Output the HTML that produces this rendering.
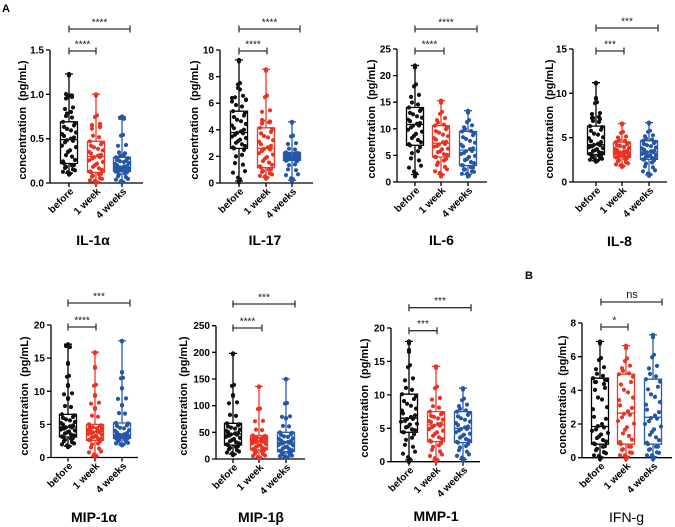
<!DOCTYPE html>
<html><head><meta charset="utf-8">
<style>
html,body{margin:0;padding:0;background:#fff;}
svg{display:block;}
text{font-family:"Liberation Sans",Arial,sans-serif;}
.ax{stroke:#000;stroke-width:1.3;fill:none;}
.tl{font-size:10px;font-weight:bold;text-anchor:end;fill:#000;}
.yl{font-size:11px;font-weight:bold;text-anchor:middle;fill:#000;}
.xl{font-size:10px;font-weight:bold;text-anchor:end;fill:#000;}
.ti{font-size:14px;font-weight:bold;text-anchor:middle;fill:#000;}
.sig{stroke:#333;stroke-width:1.3;fill:none;}
.st{font-size:10px;text-anchor:middle;fill:#111;}
.bk{stroke:#000;stroke-width:1.3;fill:none;}
.rd{stroke:#ec3b2c;stroke-width:1.3;fill:none;}
.bl{stroke:#2b5caa;stroke-width:1.3;fill:none;}
.dk{stroke:#111;stroke-width:4.2;stroke-linecap:round;fill:none;}
.dr{stroke:#ea3323;stroke-width:4.2;stroke-linecap:round;fill:none;}
.db{stroke:#2656a6;stroke-width:4.2;stroke-linecap:round;fill:none;}
</style></head>
<body>
<svg width="675" height="527" viewBox="0 0 675 527" xmlns="http://www.w3.org/2000/svg" xmlns:xlink="http://www.w3.org/1999/xlink">
<rect width="675" height="527" fill="#fff"/>
<text x="2" y="12" style="font-size:11px;font-weight:bold">A</text>
<text x="525" y="279" style="font-size:11px;font-weight:bold">B</text>

<!-- P1 IL-1a -->
<g>
<path class="ax" d="M50 50V183H143M46 50h4M46 94.3h4M46 138.7h4M46 183h4M69 183v4M96 183v4M122 183v4"/>
<text class="tl" x="44" y="53.5">1.5</text><text class="tl" x="44" y="97.8">1.0</text><text class="tl" x="44" y="142.2">0.5</text><text class="tl" x="44" y="186.5">0.0</text>
<text class="yl" transform="translate(26,120) rotate(-90)">concentration&#160;&#160;(pg/mL)</text>
<path class="bk" d="M60.5 121.8h17v41.7h-17zM60.5 139.6h17M69 74V121.8M69 163.5V173.2M65 74h8M65 173.2h8"/>
<path class="rd" d="M87.5 141.3h17v31.1h-17zM87.5 156.4h17M96 94.3V141.3M96 172.4V181.7M92 94.3h8M92 181.7h8"/>
<path class="bl" d="M113.5 157.3h17v14.2h-17zM113.5 167h17M122 116.5V157.3M122 171.5V182.1M118 116.5h8M118 182.1h8"/>
<path id="d1a" class="dk" d="M69 74h.01M66 116h.01M73 107.5h.01M70 95.5h.01M66 94h.01M72 97h.01M71 112h.01M63 121.8h.01M74 125.4h.01M67 128.9h.01M76 132.5h.01M64 136h.01M71 138.7h.01M73 140.8h.01M62 145.6h.01M70 150.4h.01M66 155.1h.01M75 159.9h.01M64 163.5h.01M72 165.4h.01M65 167.9h.01M75 170.3h.01M68 172.2h.01M69 173.2h.01"/>
<path id="d1b" class="dr" d="M96 94.3h.01M93 135.7h.01M100 127.2h.01M97 115.5h.01M92 125h.01M100 124h.01M90 141.3h.01M101 144.3h.01M94 147.3h.01M103 150.4h.01M91 153.4h.01M98 155.6h.01M100 157.2h.01M89 160.4h.01M97 163.6h.01M93 166.8h.01M102 170h.01M91 172.4h.01M99 174.3h.01M92 176.6h.01M102 178.9h.01M95 180.8h.01M96 181.7h.01"/>
<path id="d1c" class="db" d="M122 116.5h.01M120 118h.01M119 152.4h.01M126 145h.01M123 134.9h.01M124 155h.01M118 160h.01M116 157.3h.01M127 159.2h.01M120 161.2h.01M129 163.1h.01M117 165.1h.01M124 166.5h.01M126 167.2h.01M115 168.1h.01M123 169h.01M119 169.9h.01M128 170.8h.01M117 171.5h.01M125 173.6h.01M118 176.3h.01M128 178.9h.01M121 181h.01M122 182.1h.01"/>
<use href="#d1a" xlink:href="#d1a" transform="matrix(-1 0 0 1 138 1.5)"/>
<use href="#d1b" xlink:href="#d1b" transform="matrix(-1 0 0 1 192 1.5)"/>
<use href="#d1c" xlink:href="#d1c" transform="matrix(-1 0 0 1 244 0.8)"/>
<path class="sig" d="M69 29H130M69 25.5v7M130 25.5v7M69 51H96M69 47.5v7M96 47.5v7"/>
<text class="st" x="99.5" y="25.5">****</text><text class="st" x="82.5" y="47.5">****</text>
<text class="xl" transform="translate(74,192) rotate(-45)">before</text>
<text class="xl" transform="translate(101,192) rotate(-45)">1 week</text>
<text class="xl" transform="translate(127,192) rotate(-45)">4 weeks</text>
<text class="ti" x="93" y="245">IL-1α</text>
</g>

<!-- P2 IL-17 -->
<g>
<path class="ax" d="M220 50V183H313M216 50h4M216 76.6h4M216 103.2h4M216 129.8h4M216 156.4h4M216 183h4M239 183v4M266 183v4M292 183v4"/>
<text class="tl" x="214" y="53.5">10</text><text class="tl" x="214" y="80.1">8</text><text class="tl" x="214" y="106.7">6</text><text class="tl" x="214" y="133.3">4</text><text class="tl" x="214" y="159.9">2</text><text class="tl" x="214" y="186.5">0</text>
<text class="yl" transform="translate(198,120) rotate(-90)">concentration&#160;&#160;(pg/mL)</text>
<path class="bk" d="M230.5 111.2h17v37.2h-17zM230.5 132.5h17M239 60V111.2M239 148.4V181M235 60h8M235 181h8"/>
<path class="rd" d="M257.5 127.8h17v39.9h-17zM257.5 148.4h17M266 69.3V127.8M266 167.7V177.3M262 69.3h8M262 177.3h8"/>
<path class="bl" d="M283.5 152.4h17v8h-17zM283.5 156.4h17M292 121.8V152.4M292 160.4V180.3M288 121.8h8M288 180.3h8"/>
<path id="d2a" class="dk" d="M239 60h.01M236 105h.01M243 95.8h.01M240 83h.01M232 98h.01M246 100h.01M238 88h.01M233 111.2h.01M244 115.5h.01M237 119.7h.01M246 124h.01M234 128.2h.01M241 131.4h.01M243 133.3h.01M232 136.5h.01M240 139.7h.01M236 142.8h.01M245 146h.01M234 148.4h.01M242 154.9h.01M235 163.1h.01M245 171.2h.01M238 177.7h.01M239 181h.01"/>
<path id="d2b" class="dr" d="M266 69.3h.01M263 120.8h.01M270 110.3h.01M267 95.6h.01M262 120h.01M270 122h.01M260 127.8h.01M271 131.9h.01M264 136h.01M273 140.2h.01M261 144.3h.01M268 147.4h.01M270 149.4h.01M259 153.2h.01M267 157.1h.01M263 161h.01M272 164.8h.01M261 167.7h.01M269 169.6h.01M262 172h.01M272 174.4h.01M265 176.3h.01M266 177.3h.01"/>
<path id="d2c" class="db" d="M292 121.8h.01M289 148.7h.01M296 143.2h.01M293 135.6h.01M286 152.4h.01M297 153.2h.01M290 154h.01M299 154.8h.01M287 155.6h.01M294 156.2h.01M296 156.6h.01M285 157.4h.01M293 158.2h.01M289 159h.01M298 159.8h.01M287 160.4h.01M295 164.4h.01M288 169.4h.01M298 174.3h.01M291 178.3h.01M292 180.3h.01"/>
<use href="#d2a" xlink:href="#d2a" transform="matrix(-1 0 0 1 478 1.5)"/>
<use href="#d2b" xlink:href="#d2b" transform="matrix(-1 0 0 1 532 1.5)"/>
<use href="#d2c" xlink:href="#d2c" transform="matrix(-1 0 0 1 584 0.8)"/>
<path class="sig" d="M239 29H300M239 25.5v7M300 25.5v7M239 51H267M239 47.5v7M267 47.5v7"/>
<text class="st" x="269.5" y="25.5">****</text><text class="st" x="253" y="47.5">****</text>
<text class="xl" transform="translate(244,192) rotate(-45)">before</text>
<text class="xl" transform="translate(271,192) rotate(-45)">1 week</text>
<text class="xl" transform="translate(297,192) rotate(-45)">4 weeks</text>
<text class="ti" x="265" y="245">IL-17</text>
</g>

<!-- P3 IL-6 -->
<g>
<path class="ax" d="M397 49V182H487M393 49h4M393 75.6h4M393 102.2h4M393 128.8h4M393 155.4h4M393 182h4M415 182v4M441 182v4M468 182v4"/>
<text class="tl" x="391" y="52.5">25</text><text class="tl" x="391" y="79.1">20</text><text class="tl" x="391" y="105.7">15</text><text class="tl" x="391" y="132.3">10</text><text class="tl" x="391" y="158.9">5</text><text class="tl" x="391" y="185.5">0</text>
<text class="yl" transform="translate(375,119) rotate(-90)">concentration&#160;&#160;(pg/mL)</text>
<path class="bk" d="M406.5 107.5h17v37.8h-17zM406.5 124.5h17M415 65.5V107.5M415 145.3V174.5M411 65.5h8M411 174.5h8"/>
<path class="rd" d="M432.5 125.6h17v31.4h-17zM432.5 143.2h17M441 100.6V125.6M441 157V174.5M437 100.6h8M437 174.5h8"/>
<path class="bl" d="M459.5 131.5h17v34h-17zM459.5 150.1h17M468 110.7V131.5M468 165.5V174.5M464 110.7h8M464 174.5h8"/>
<path id="d3a" class="dk" d="M415 65.5h.01M412 102.5h.01M419 94.9h.01M416 84.4h.01M409 107.5h.01M420 110.9h.01M413 114.3h.01M422 117.7h.01M410 121.1h.01M417 123.7h.01M419 125.5h.01M408 129.7h.01M416 133.9h.01M412 138h.01M421 142.2h.01M410 145.3h.01M418 151.1h.01M411 158.4h.01M421 165.7h.01M414 171.6h.01M415 174.5h.01"/>
<path id="d3b" class="dr" d="M441 100.6h.01M438 122.6h.01M445 118.1h.01M442 111.9h.01M435 125.6h.01M446 129.1h.01M439 132.6h.01M448 136.2h.01M436 139.7h.01M443 142.3h.01M445 143.9h.01M434 146.7h.01M442 149.4h.01M438 152.2h.01M447 154.9h.01M436 157h.01M444 160.5h.01M437 164.9h.01M447 169.3h.01M440 172.8h.01M441 174.5h.01"/>
<path id="d3c" class="db" d="M468 110.7h.01M465 129h.01M472 125.3h.01M469 120.1h.01M462 131.5h.01M473 135.2h.01M466 138.9h.01M475 142.7h.01M463 146.4h.01M470 149.2h.01M472 150.9h.01M461 153.9h.01M469 157h.01M465 160.1h.01M474 163.2h.01M463 165.5h.01M471 167.3h.01M464 169.6h.01M474 171.8h.01M467 173.6h.01M468 174.5h.01"/>
<use href="#d3a" xlink:href="#d3a" transform="matrix(-1 0 0 1 830 2)"/>
<use href="#d3b" xlink:href="#d3b" transform="matrix(-1 0 0 1 882 2)"/>
<use href="#d3c" xlink:href="#d3c" transform="matrix(-1 0 0 1 936 2)"/>
<path class="sig" d="M415 29H477M415 25.5v7M477 25.5v7M415 51H444M415 47.5v7M444 47.5v7"/>
<text class="st" x="446" y="25.5">****</text><text class="st" x="429.5" y="47.5">****</text>
<text class="xl" transform="translate(420,191) rotate(-45)">before</text>
<text class="xl" transform="translate(446,191) rotate(-45)">1 week</text>
<text class="xl" transform="translate(473,191) rotate(-45)">4 weeks</text>
<text class="ti" x="441.5" y="245">IL-6</text>
</g>

<!-- P4 IL-8 -->
<g>
<path class="ax" d="M573 49V182H667M569 49h4M569 93.3h4M569 137.7h4M569 182h4M596 182v4M622 182v4M649 182v4"/>
<text class="tl" x="567" y="52.5">15</text><text class="tl" x="567" y="96.8">10</text><text class="tl" x="567" y="141.2">5</text><text class="tl" x="567" y="185.5">0</text>
<text class="yl" transform="translate(553,119) rotate(-90)">concentration&#160;&#160;(pg/mL)</text>
<path class="bk" d="M587.5 126.1h17v28.4h-17zM587.5 144.8h17M596 82.7V126.1M596 154.5V160.7M592 82.7h8M592 160.7h8"/>
<path class="rd" d="M613.5 142.1h17v15.1h-17zM613.5 151.9h17M622 123.5V142.1M622 157.2V166M618 123.5h8M618 166h8"/>
<path class="bl" d="M640.5 140.8h17v18.6h-17zM640.5 151.9h17M649 122.6V140.8M649 159.4V174.9M645 122.6h8M645 174.9h8"/>
<path id="d4a" class="dk" d="M596 82.7h.01M593 120.9h.01M600 113.1h.01M597 102.2h.01M599 117h.01M592 118h.01M596 98h.01M590 126.1h.01M601 129.8h.01M594 133.6h.01M603 137.3h.01M591 141.1h.01M598 143.9h.01M600 145.3h.01M589 147.2h.01M597 149.2h.01M593 151.1h.01M602 153h.01M591 154.5h.01M599 155.7h.01M592 157.3h.01M602 158.8h.01M595 160.1h.01M596 160.7h.01"/>
<path id="d4b" class="dr" d="M622 123.5h.01M619 139.9h.01M626 136.5h.01M623 131.9h.01M616 142.1h.01M627 144.1h.01M620 146h.01M629 148h.01M617 149.9h.01M624 151.4h.01M626 152.2h.01M615 153.2h.01M623 154.3h.01M619 155.3h.01M628 156.4h.01M617 157.2h.01M625 159h.01M618 161.2h.01M628 163.4h.01M621 165.1h.01M622 166h.01"/>
<path id="d4c" class="db" d="M649 122.6h.01M646 138.6h.01M653 135.3h.01M650 130.8h.01M643 140.8h.01M654 143h.01M647 145.2h.01M656 147.5h.01M644 149.7h.01M651 151.3h.01M653 152.3h.01M642 153.8h.01M650 155.3h.01M646 156.8h.01M655 158.3h.01M644 159.4h.01M652 162.5h.01M645 166.4h.01M655 170.3h.01M648 173.4h.01M649 174.9h.01"/>
<use href="#d4a" xlink:href="#d4a" transform="matrix(-1 0 0 1 1192 1)"/>
<use href="#d4b" xlink:href="#d4b" transform="matrix(-1 0 0 1 1244 1)"/>
<use href="#d4c" xlink:href="#d4c" transform="matrix(-1 0 0 1 1298 1)"/>
<path class="sig" d="M596 28H658M596 24.5v7M658 24.5v7M596 51H624M596 47.5v7M624 47.5v7"/>
<text class="st" x="627" y="24.5">***</text><text class="st" x="610" y="47.5">***</text>
<text class="xl" transform="translate(601,191) rotate(-45)">before</text>
<text class="xl" transform="translate(627,191) rotate(-45)">1 week</text>
<text class="xl" transform="translate(654,191) rotate(-45)">4 weeks</text>
<text class="ti" x="619.5" y="246">IL-8</text>
</g>

<!-- P5 MIP-1a -->
<g>
<path class="ax" d="M51 325V457.5H138M47 325h4M47 358.1h4M47 391.3h4M47 424.4h4M47 457.5h4M68 457.5v4M95 457.5v4M122 457.5v4"/>
<text class="tl" x="45" y="328.5">20</text><text class="tl" x="45" y="361.6">15</text><text class="tl" x="45" y="394.8">10</text><text class="tl" x="45" y="427.9">5</text><text class="tl" x="45" y="461">0</text>
<text class="yl" transform="translate(28,396) rotate(-90)">concentration&#160;&#160;(pg/mL)</text>
<path class="bk" d="M59.5 414.4h17v22.6h-17zM59.5 427h17M68 344.2V414.4M68 437V446.2M64 344.2h8M64 446.2h8"/>
<path class="rd" d="M86.5 424.4h17v15.9h-17zM86.5 431.7h17M95 352.2V424.4M95 440.3V456.2M91 352.2h8M91 456.2h8"/>
<path class="bl" d="M113.5 423h17v15.3h-17zM113.5 435h17M122 340.9V423M122 438.3V444.9M118 340.9h8M118 444.9h8"/>
<path id="d5a" class="dk" d="M68 344.2h.01M65 406h.01M72 393.3h.01M69 375.8h.01M68 385h.01M68 398h.01M68 363h.01M66 346h.01M62 414.4h.01M73 416.9h.01M66 419.4h.01M75 422h.01M63 424.5h.01M70 426.4h.01M72 427.5h.01M61 429.5h.01M69 431.5h.01M65 433.5h.01M74 435.5h.01M63 437h.01M71 438.8h.01M64 441.1h.01M74 443.4h.01M67 445.3h.01M68 446.2h.01"/>
<path id="d5b" class="dr" d="M95 352.2h.01M92 415.7h.01M99 402.7h.01M96 384.7h.01M95 367h.01M95 395h.01M95 408h.01M89 424.4h.01M100 425.9h.01M93 427.3h.01M102 428.8h.01M90 430.2h.01M97 431.3h.01M99 432.1h.01M88 433.9h.01M96 435.6h.01M92 437.3h.01M101 439h.01M90 440.3h.01M98 443.5h.01M91 447.5h.01M101 451.4h.01M94 454.6h.01M95 456.2h.01"/>
<path id="d5c" class="db" d="M122 340.9h.01M119 413.1h.01M126 398.4h.01M123 377.8h.01M122 388h.01M122 405h.01M122 372h.01M116 423h.01M127 425.4h.01M120 427.8h.01M129 430.2h.01M117 432.6h.01M124 434.4h.01M126 435.2h.01M115 435.8h.01M123 436.5h.01M119 437.1h.01M128 437.8h.01M117 438.3h.01M125 439.6h.01M118 441.3h.01M128 442.9h.01M121 444.2h.01M122 444.9h.01"/>
<use href="#d5a" xlink:href="#d5a" transform="matrix(-1 0 0 1 136 1)"/>
<use href="#d5b" xlink:href="#d5b" transform="matrix(-1 0 0 1 190 1)"/>
<use href="#d5c" xlink:href="#d5c" transform="matrix(-1 0 0 1 244 0.5)"/>
<path class="sig" d="M68 303H130M68 299.5v7M130 299.5v7M68 327H96M68 323.5v7M96 323.5v7"/>
<text class="st" x="99" y="299.5">***</text><text class="st" x="82" y="323.5">****</text>
<text class="xl" transform="translate(73,466.5) rotate(-45)">before</text>
<text class="xl" transform="translate(100,466.5) rotate(-45)">1 week</text>
<text class="xl" transform="translate(127,466.5) rotate(-45)">4 weeks</text>
<text class="ti" x="94" y="522">MIP-1α</text>
</g>

<!-- P6 MIP-1b -->
<g>
<path class="ax" d="M216 325.7V459H305M212 325.7h4M212 352.3h4M212 379h4M212 405.7h4M212 432.3h4M212 459h4M233 459v4M259 459v4M286 459v4"/>
<text class="tl" x="210" y="329.2">250</text><text class="tl" x="210" y="355.8">200</text><text class="tl" x="210" y="382.5">150</text><text class="tl" x="210" y="409.2">100</text><text class="tl" x="210" y="435.8">50</text><text class="tl" x="210" y="462.5">0</text>
<text class="yl" transform="translate(187,396) rotate(-90)">concentration&#160;&#160;(pg/mL)</text>
<path class="bk" d="M224.5 423.3h17v21.8h-17zM224.5 434h17M233 353.4V423.3M233 445.1V454.2M229 353.4h8M229 454.2h8"/>
<path class="rd" d="M250.5 435.5h17v14.4h-17zM250.5 441.4h17M259 386.5V435.5M259 449.9V457.9M255 386.5h8M255 457.9h8"/>
<path class="bl" d="M277.5 432.3h17v19.2h-17zM277.5 442.5h17M286 379V432.3M286 451.5V457.4M282 379h8M282 457.4h8"/>
<path id="d6a" class="dk" d="M233 353.4h.01M230 414.9h.01M237 402.3h.01M234 384.9h.01M233 395h.01M227 423.3h.01M238 425.4h.01M231 427.6h.01M240 429.7h.01M228 431.9h.01M235 433.5h.01M237 434.6h.01M226 436.8h.01M234 439h.01M230 441.2h.01M239 443.4h.01M228 445.1h.01M236 446.9h.01M229 449.2h.01M239 451.5h.01M232 453.3h.01M233 454.2h.01"/>
<path id="d6b" class="dr" d="M259 386.5h.01M256 429.6h.01M263 420.8h.01M260 408.5h.01M253 435.5h.01M264 436.7h.01M257 437.9h.01M266 439h.01M254 440.2h.01M261 441.1h.01M263 441.8h.01M252 443.5h.01M260 445.2h.01M256 446.9h.01M265 448.6h.01M254 449.9h.01M262 451.5h.01M255 453.5h.01M265 455.5h.01M258 457.1h.01M259 457.9h.01"/>
<path id="d6c" class="db" d="M286 379h.01M283 425.9h.01M290 416.3h.01M287 403h.01M286 418h.01M280 432.3h.01M291 434.3h.01M284 436.4h.01M293 438.4h.01M281 440.5h.01M288 442h.01M290 443h.01M279 444.8h.01M287 446.6h.01M283 448.4h.01M292 450.2h.01M281 451.5h.01M289 452.7h.01M282 454.2h.01M292 455.6h.01M285 456.8h.01M286 457.4h.01"/>
<use href="#d6a" xlink:href="#d6a" transform="matrix(-1 0 0 1 466 1)"/>
<use href="#d6b" xlink:href="#d6b" transform="matrix(-1 0 0 1 518 0.5)"/>
<use href="#d6c" xlink:href="#d6c" transform="matrix(-1 0 0 1 572 0.5)"/>
<path class="sig" d="M233 304H295M233 300.5v7M295 300.5v7M233 328H262M233 324.5v7M262 324.5v7"/>
<text class="st" x="264" y="300.5">***</text><text class="st" x="247.5" y="324.5">****</text>
<text class="xl" transform="translate(238,468) rotate(-45)">before</text>
<text class="xl" transform="translate(264,468) rotate(-45)">1 week</text>
<text class="xl" transform="translate(291,468) rotate(-45)">4 weeks</text>
<text class="ti" x="261" y="522">MIP-1β</text>
</g>

<!-- P7 MMP-1 -->
<g>
<path class="ax" d="M391 328V461.7H480M387 328h4M387 361.4h4M387 394.9h4M387 428.3h4M387 461.7h4M409 461.7v4M436 461.7v4M463 461.7v4"/>
<text class="tl" x="385" y="331.5">20</text><text class="tl" x="385" y="364.9">15</text><text class="tl" x="385" y="398.4">10</text><text class="tl" x="385" y="431.8">5</text><text class="tl" x="385" y="465.2">0</text>
<text class="yl" transform="translate(368,398) rotate(-90)">concentration&#160;&#160;(pg/mL)</text>
<path class="bk" d="M400.5 394.2h17v38.1h-17zM400.5 418.2h17M409 341.4V394.2M409 432.3V460M405 341.4h8M405 460h8"/>
<path class="rd" d="M427.5 411.6h17v30h-17zM427.5 424.9h17M436 366.4V411.6M436 441.6V460M432 366.4h8M432 460h8"/>
<path class="bl" d="M454.5 411.6h17v31h-17zM454.5 428.3h17M463 388.2V411.6M463 442.6V459.4M459 388.2h8M459 459.4h8"/>
<path id="d7a" class="dk" d="M409 341.4h.01M406 387.9h.01M413 378.4h.01M410 365.2h.01M409 350h.01M402 394.2h.01M414 399h.01M407 403.8h.01M416 408.6h.01M403 413.4h.01M411 417h.01M413 418.9h.01M401 421.7h.01M410 424.5h.01M406 427.4h.01M415 430.2h.01M404 432.3h.01M412 437.8h.01M405 444.8h.01M415 451.7h.01M408 457.2h.01M409 460h.01"/>
<path id="d7b" class="dr" d="M436 366.4h.01M433 406.2h.01M440 398h.01M437 386.7h.01M430 411.6h.01M441 414.3h.01M434 416.9h.01M443 419.6h.01M431 422.2h.01M438 424.2h.01M440 425.7h.01M429 429.1h.01M437 432.4h.01M433 435.8h.01M442 439.1h.01M431 441.6h.01M439 445.3h.01M432 449.9h.01M442 454.5h.01M435 458.2h.01M436 460h.01"/>
<path id="d7c" class="db" d="M463 388.2h.01M460 408.8h.01M467 404.6h.01M464 398.7h.01M457 411.6h.01M468 414.9h.01M461 418.3h.01M470 421.6h.01M458 425h.01M465 427.5h.01M467 429h.01M456 432.2h.01M464 434.7h.01M460 437.6h.01M469 440.5h.01M458 442.6h.01M466 446h.01M459 450.2h.01M469 454.4h.01M462 457.7h.01M463 459.4h.01"/>
<use href="#d7a" xlink:href="#d7a" transform="matrix(-1 0 0 1 818 2)"/>
<use href="#d7b" xlink:href="#d7b" transform="matrix(-1 0 0 1 872 1.5)"/>
<use href="#d7c" xlink:href="#d7c" transform="matrix(-1 0 0 1 926 1.5)"/>
<path class="sig" d="M409 307.7H471M409 304.2v7M471 304.2v7M409 330.7H437M409 327.2v7M437 327.2v7"/>
<text class="st" x="440" y="304.2">***</text><text class="st" x="423" y="327.2">***</text>
<text class="xl" transform="translate(414,470.7) rotate(-45)">before</text>
<text class="xl" transform="translate(441,470.7) rotate(-45)">1 week</text>
<text class="xl" transform="translate(468,470.7) rotate(-45)">4 weeks</text>
<text class="ti" x="436" y="521">MMP-1</text>
</g>

<!-- P8 IFN-g -->
<g>
<path class="ax" d="M582 323V457.7H672M578 323h4M578 356.7h4M578 390.4h4M578 424h4M578 457.7h4M600 457.7v4M626 457.7v4M653 457.7v4"/>
<text class="tl" x="576" y="326.5">8</text><text class="tl" x="576" y="360.2">6</text><text class="tl" x="576" y="393.9">4</text><text class="tl" x="576" y="427.5">2</text><text class="tl" x="576" y="461.2">0</text>
<text class="yl" transform="translate(566,395) rotate(-90)">concentration&#160;&#160;(pg/mL)</text>
<path class="bk" d="M591.5 378.2h17v66h-17zM591.5 426.5h17M600 341.5V378.2M600 444.2V457.2M596 341.5h8M596 457.2h8"/>
<path class="rd" d="M617.5 374.2h17v70h-17zM617.5 413.2h17M626 345.7V374.2M626 444.2V456.7M622 345.7h8M622 456.7h8"/>
<path class="bl" d="M644.5 379.2h17v65h-17zM644.5 417.3h17M653 334.8V379.2M653 444.2V456.7M649 334.8h8M649 456.7h8"/>
<path id="d8a" class="dk" d="M600 341.5h.01M597 373.8h.01M604 367.2h.01M601 358h.01M596 382h.01M605 380h.01M593 378.2h.01M605 387.9h.01M598 397.5h.01M607 407.2h.01M594 416.8h.01M602 424.1h.01M604 427.4h.01M592 430.9h.01M601 434.5h.01M597 438h.01M606 441.5h.01M595 444.2h.01M603 446.8h.01M596 450.1h.01M606 453.3h.01M599 455.9h.01M600 457.2h.01"/>
<path id="d8b" class="dr" d="M626 345.7h.01M623 370.8h.01M630 365.7h.01M627 358.5h.01M619 374.2h.01M631 382h.01M624 389.8h.01M633 397.6h.01M620 405.4h.01M628 411.3h.01M630 414.8h.01M618 421h.01M627 427.2h.01M623 433.4h.01M632 439.6h.01M621 444.2h.01M629 446.7h.01M622 449.8h.01M632 452.9h.01M625 455.4h.01M626 456.7h.01"/>
<path id="d8c" class="db" d="M653 334.8h.01M650 373.9h.01M657 365.9h.01M654 354.8h.01M646 379.2h.01M658 386.8h.01M651 394.4h.01M660 402.1h.01M647 409.7h.01M655 415.5h.01M657 418.6h.01M645 424h.01M654 429.4h.01M650 434.8h.01M659 440.2h.01M648 444.2h.01M656 446.7h.01M649 449.8h.01M659 452.9h.01M652 455.4h.01M653 456.7h.01"/>
<use href="#d8a" xlink:href="#d8a" transform="matrix(-1 0 0 1 1200 2)"/>
<use href="#d8b" xlink:href="#d8b" transform="matrix(-1 0 0 1 1252 2.5)"/>
<use href="#d8c" xlink:href="#d8c" transform="matrix(-1 0 0 1 1306 2.5)"/>
<path class="sig" d="M601 302H662M601 298.5v7M662 298.5v7M601 327H628M601 323.5v7M628 323.5v7"/>
<text class="st" x="632" y="298" style="font-size:11px">ns</text><text class="st" x="614.5" y="323.5">*</text>
<text class="xl" transform="translate(605,466.7) rotate(-45)">before</text>
<text class="xl" transform="translate(631,466.7) rotate(-45)">1 week</text>
<text class="xl" transform="translate(658,466.7) rotate(-45)">4 weeks</text>
<text class="ti" x="626.5" y="522" style="font-weight:normal">IFN-g</text>
</g>
</svg>
</body></html>
